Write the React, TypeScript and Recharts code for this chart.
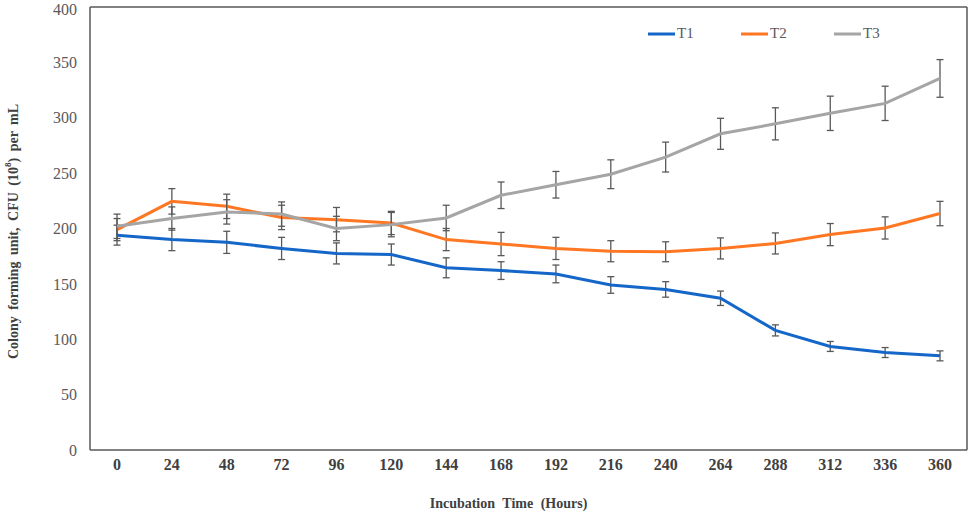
import React from 'react';
import { LineChart, Line, XAxis, YAxis, ErrorBar, Legend, Label, CartesianGrid } from 'recharts';

const hours = [0, 24, 48, 72, 96, 120, 144, 168, 192, 216, 240, 264, 288, 312, 336, 360];
const t1 = [194, 190, 187.5, 182, 177.5, 176.5, 164.5, 162, 159, 149, 145, 137, 108, 93.5, 88, 85];
const t2 = [199, 224.5, 220, 210, 208, 205, 190, 186, 182, 179.5, 179, 182, 186.5, 194.5, 200.5, 213.5];
const t3 = [202, 209, 215, 213, 200, 203.5, 209.5, 230, 239.5, 249, 264.5, 285.5, 294.5, 304, 313, 335.5];
const t1Err = [9, 10, 10, 10, 9.5, 9.5, 9, 8, 8, 7.5, 7, 6.5, 5, 4.5, 4.5, 4.5];
const t2Err = [10, 11.5, 11, 11, 11, 10.5, 10, 10.5, 10, 9.5, 9, 9.5, 9.5, 10, 10, 11];
const t3Err = [11, 10.5, 11, 11, 11, 11, 11.5, 12, 12, 13, 13.5, 14, 14.5, 15.5, 15.5, 17];
const yTicks = [0, 50, 100, 150, 200, 250, 300, 350, 400];
const seriesNames = ['T1', 'T2', 'T3'];
const seriesColors = ['#1466C8', '#FF7722', '#A5A5A5'];

const data = hours.map((h, i) => ({
  hour: h,
  T1: t1[i],
  T2: t2[i],
  T3: t3[i],
  e1: t1Err[i],
  e2: t2Err[i],
  e3: t3Err[i],
}));

const FONT = '"Liberation Serif", "Times New Roman", serif';

const renderLegend = () => (
  <div style={{ display: 'flex', flexDirection: 'row', fontFamily: FONT, fontSize: 15, color: '#595959' }}>
    {seriesNames.map((n, i) => (
      <div key={n} style={{ width: 93, display: 'flex', alignItems: 'center' }}>
        <svg width={29} height={6} style={{ display: 'block' }}>
          <line x1={0} y1={3} x2={27} y2={3} stroke={seriesColors[i]} strokeWidth={3} />
        </svg>
        <span>{n}</span>
      </div>
    ))}
  </div>
);

const YLabel = (props: any) => {
  const vb = props.viewBox || {};
  const cx = 13;
  const cy = (vb.y ?? 7) + (vb.height ?? 443) / 2 + 3;
  return (
    <text
      x={cx}
      y={cy}
      transform={`rotate(-90, ${cx}, ${cy})`}
      textAnchor="middle"
      dominantBaseline="central"
      fontFamily={FONT}
      fontSize={14}
      fontWeight="bold"
      fill="#404040"
      style={{ wordSpacing: 3 }}
    >
      Colony forming unit, CFU (10
      <tspan dy={-5} fontSize={9}>8</tspan>
      <tspan dy={5}>) per mL</tspan>
    </text>
  );
};

export default function App() {
  return (
    <div style={{ position: 'absolute', left: 0, top: 0, width: 969, height: 512, background: '#fff' }}>
      <LineChart width={969} height={512} data={data} margin={{ top: 7, right: 2, bottom: 0, left: 0 }}>
        <CartesianGrid
          stroke="#595959"
          strokeWidth={1.5}
          horizontalCoordinatesGenerator={({ offset }: any) => [offset.top]}
          verticalCoordinatesGenerator={({ offset }: any) => [offset.left + offset.width]}
        />
        <XAxis
          dataKey="hour"
          type="category"
          padding={{ left: 27, right: 27 }}
          height={62}
          tickLine={false}
          axisLine={{ stroke: '#595959', strokeWidth: 1.5 }}
          tick={{ fontFamily: FONT, fontSize: 16, fontWeight: 'bold', fill: '#404040' }}
          tickMargin={3}
          interval={0}
        >
          <Label
            value="Incubation Time (Hours)"
            position="insideBottom"
            offset={4}
            dx={-20}
            style={{ fontFamily: FONT, fontSize: 14, fontWeight: 'bold', fill: '#404040', wordSpacing: 4 }}
          />
        </XAxis>
        <YAxis
          domain={[0, 400]}
          ticks={yTicks}
          width={90}
          tickLine={false}
          axisLine={{ stroke: '#595959', strokeWidth: 1.5 }}
          tick={{ fontFamily: FONT, fontSize: 16, fill: '#595959' }}
          tickMargin={7}
          label={<YLabel />}
        />
        <Legend
          layout="vertical"
          align="center"
          verticalAlign="middle"
          content={renderLegend}
          wrapperStyle={{ top: 25, left: 648, width: 300 }}
        />
        <Line dataKey="T1" stroke={seriesColors[0]} strokeWidth={3} dot={false} isAnimationActive={false}>
          <ErrorBar dataKey="e1" width={3.5} stroke="#595959" strokeWidth={1.3} direction="y" />
        </Line>
        <Line dataKey="T2" stroke={seriesColors[1]} strokeWidth={3} dot={false} isAnimationActive={false}>
          <ErrorBar dataKey="e2" width={3.5} stroke="#595959" strokeWidth={1.3} direction="y" />
        </Line>
        <Line dataKey="T3" stroke={seriesColors[2]} strokeWidth={3} dot={false} isAnimationActive={false}>
          <ErrorBar dataKey="e3" width={3.5} stroke="#595959" strokeWidth={1.3} direction="y" />
        </Line>
      </LineChart>
    </div>
  );
}
